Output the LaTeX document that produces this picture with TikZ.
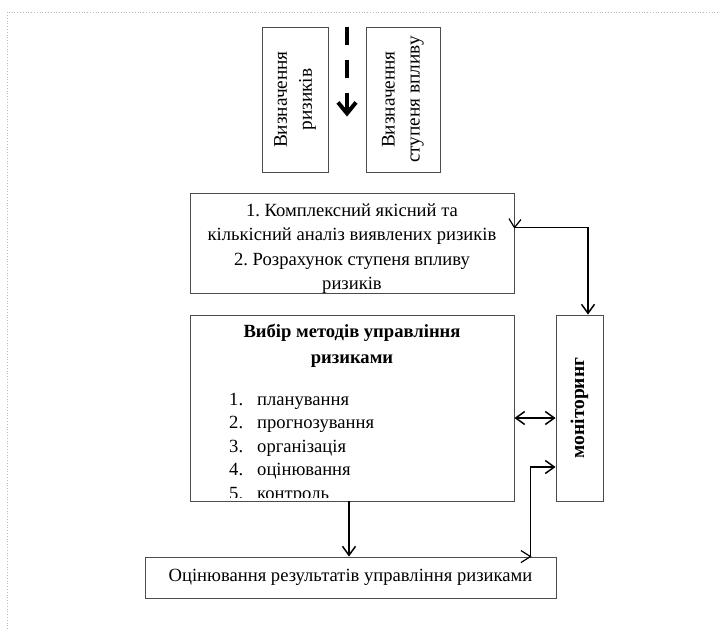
\documentclass[tikz,border=0pt]{standalone}
\usepackage{fontspec}
\setmainfont{Liberation Serif}
\usetikzlibrary{arrows.meta,calc}
\begin{document}
\begin{tikzpicture}[x=1pt,y=-1pt,
  every node/.style={font=\fontsize{18.6}{24.5}\selectfont, inner sep=0pt},
  box/.style={draw=black!70, line width=0.9pt, rectangle},
  conn/.style={line width=1.5pt, -{Straight Barb[length=9pt,width=13pt]}},
  conntwo/.style={line width=1.5pt, {Straight Barb[length=9pt,width=13pt]}-{Straight Barb[length=9pt,width=13pt]}},
  barb/.style={line width=1.2pt},
  vtext/.style={rotate=90, align=center, font=\fontsize{19.3}{25}\selectfont}]
\useasboundingbox (0,0) rectangle (718,630);
\draw[gray!55, dotted, line width=0.8pt] (718,12) -- (7,12) -- (7,630);

% boxes
\node[box, minimum width=66pt, minimum height=145pt] (A) at (295,99.5) {};
\node[box, minimum width=74pt, minimum height=145pt] (B) at (403,99.5) {};
\node[box, minimum width=324pt, minimum height=100pt] (C) at (352,243) {};
\node[box, minimum width=324pt, minimum height=186pt] (D) at (352,408) {};
\node[box, minimum width=47pt, minimum height=186pt] (M) at (579.5,408) {};
\node[box, minimum width=411pt, minimum height=41pt] (E) at (350.5,577.5) {};

% texts
\node[vtext] (At) at (A.center) {Визначення\\ризиків};
\node[vtext] (Bt) at (B.center) {Визначення\\ступеня впливу};
\node[align=center] (Ct) at ($(C.center)+(0,5.5)$) {1.\ Комплексний якісний та\\кількісний аналіз виявлених ризиків\\2.\ Розрахунок ступеня впливу\\ризиків};
\node[align=center, font=\fontsize{18.6}{26}\selectfont\bfseries] (Dt) at (352,346) {Вибір методів управління\\ризиками};
\begin{scope}
  \clip (190,315) rectangle (514,497);
  \foreach \t [count=\k] in {планування,прогнозування,організація,оцінювання,контроль}{
    \node[anchor=base west] (L\k) at (229,381.5+23.5*\k) {\k.};
    \node[anchor=base west] (N\k) at (257,381.5+23.5*\k) {\t};
  }
\end{scope}
\node[rotate=90, font=\fontsize{19.5}{24}\selectfont\bfseries] (Mt) at (M.center) {моніторинг};
\node (Et) at (E.center) {Оцінювання результатів управління ризиками};

% dashed arrow between A and B
\coordinate (dtop) at ($(A.north east)!0.5!(B.north west)$);
\coordinate (dbot) at ($(dtop)+(0,90)$);
\draw[line width=4pt, dash pattern=on 18pt off 15pt, -{Straight Barb[length=11pt,width=18pt]}] (dtop) -- (dbot);

% connectors
\draw[conn] ([yshift=-35pt]C.north east) -| ([xshift=8.5pt]M.north);
\draw[barb] ($(C.north east)+(-5.5,26)$) -- ($(C.north east)+(0,35)$) -- ($(C.north east)+(6.5,27)$);
\draw[conntwo] ([yshift=-10pt]D.east) -- ([yshift=-10pt]M.west);
\draw[conn] ([xshift=-3pt]D.south) -- ([xshift=-3pt]D.south |- E.north);
\draw[conn] ([xshift=-26pt]E.north east) |- ([yshift=-59pt]M.west);
\draw[barb] ($(E.north east)+(-35.5,-6)$) -- ($(E.north east)+(-26,0)$) -- ($(E.north east)+(-35.5,6)$);
\end{tikzpicture}
\end{document}
